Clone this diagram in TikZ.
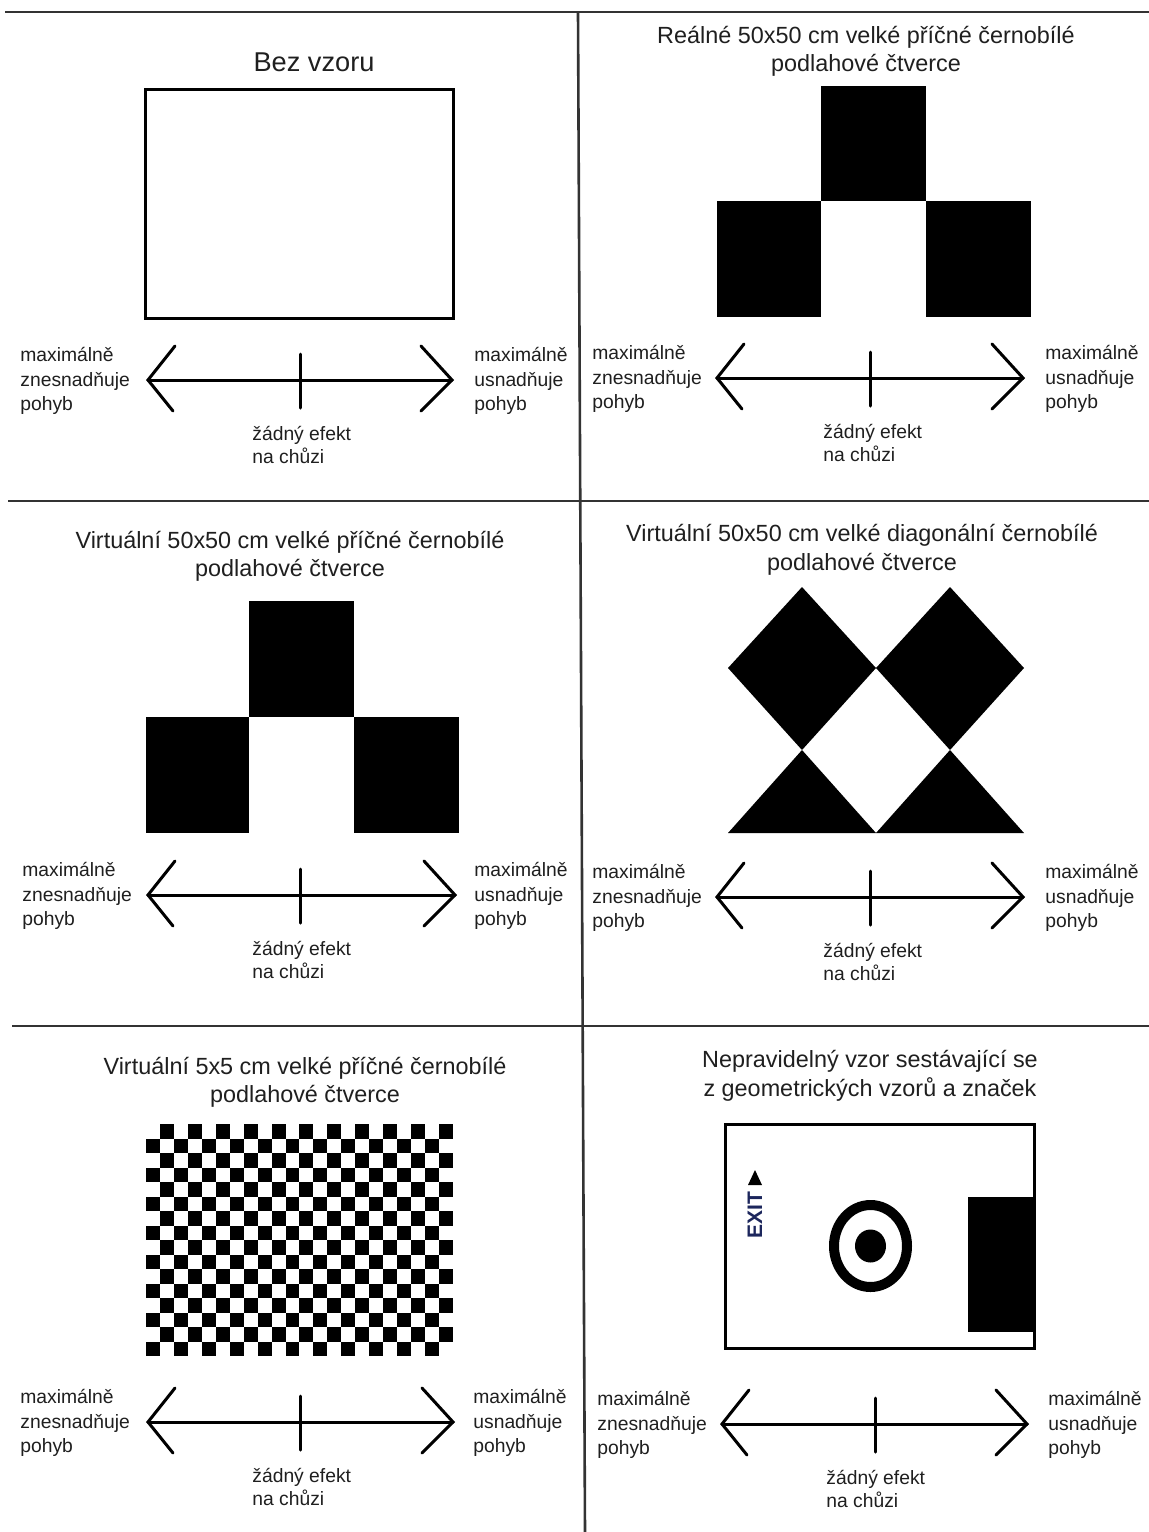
\documentclass[tikz,border=0pt]{standalone}
\usepackage{fontspec}
\setmainfont{Liberation Sans}
\usetikzlibrary{calc}
\newcommand{\labfont}{\fontsize{9.65}{11}\selectfont}
\newcommand{\ttlfont}{\fontsize{11.7}{14}\selectfont}
\newcommand{\bigttlfont}{\fontsize{13.6}{16}\selectfont}
\definecolor{exitblue}{RGB}{28,38,92}
\tikzset{
  gridline/.style={line width=1.3pt, draw=black!80},
  frame/.style={line width=1.5pt, draw=black},
  scaleline/.style={line width=1.5pt, line cap=round, line join=miter},
  lab/.style={font=\labfont, anchor=base west, inner sep=0pt, text=black!88},
  ttl/.style={font=\ttlfont, anchor=base, inner sep=0pt, text=black!88},
}
\newcommand{\walkscale}[8]{%
  \coordinate (#1L) at (#3,#2);
  \coordinate (#1R) at (#4,#2);
  \coordinate (#1T) at (#5,#2-26);
  \coordinate (#1B) at (#5,#2+28);
  \draw[scaleline] (#1L) -- (#1R);
  \draw[scaleline] ($(#1L)+(27,-34)$) -- (#1L) -- ($(#1L)+(25,31)$);
  \draw[scaleline] ($(#1R)+(-31,-34)$) -- (#1R) -- ($(#1R)+(-31,31)$);
  \draw[scaleline] (#1T) -- (#1B);
  \node[lab] (#1a1) at (#6,#2-19) {maximálně};
  \node[lab] (#1a2) at (#6,#2+6) {znesnadňuje};
  \node[lab] (#1a3) at (#6,#2+30) {pohyb};
  \node[lab] (#1b1) at (#7,#2-19) {maximálně};
  \node[lab] (#1b2) at (#7,#2+6) {usnadňuje};
  \node[lab] (#1b3) at (#7,#2+30) {pohyb};
  \node[lab] (#1c1) at (#8,#2+60) {žádný efekt};
  \node[lab] (#1c2) at (#8,#2+83) {na chůzi};
}
\begin{document}
\begin{tikzpicture}[x=0.5pt,y=-0.5pt]
\useasboundingbox[fill=white] (0,0) rectangle (1149,1532);
% grid
\draw[gridline] (5,12) -- (1149,12);
\draw[gridline] (578,12) -- (585,1532);
\draw[gridline] (8,501) -- (1149,501);
\draw[gridline] (12,1026) -- (1149,1026);

% panel 1
\node[ttl, font=\bigttlfont] (t1) at (314,71) {Bez vzoru};
\draw[frame] (145,89) rectangle (453,318);
\walkscale{sa}{380}{148}{452}{300}{20}{474}{252}

% panel 2
\node[ttl] (t2a) at (866,43) {Reálné 50x50 cm velké příčné černobílé};
\node[ttl] (t2b) at (866,71) {podlahové čtverce};
\fill (821,86) rectangle (926,201);
\fill (717,201) rectangle (821,317);
\fill (926,201) rectangle (1031,317);
\walkscale{sb}{378}{717}{1023}{870}{592}{1045}{823}

% panel 3
\node[ttl] (t3a) at (290,548) {Virtuální 50x50 cm velké příčné černobílé};
\node[ttl] (t3b) at (290,576) {podlahové čtverce};
\fill (249,601) rectangle (354,717);
\fill (146,717) rectangle (249,833);
\fill (354,717) rectangle (459,833);
\walkscale{sc}{895}{148}{455}{300}{22}{474}{252}

% panel 4
\node[ttl] (t4a) at (862,541) {Virtuální 50x50 cm velké diagonální černobílé};
\node[ttl] (t4b) at (862,570) {podlahové čtverce};
\fill (728,668) -- (802,587) -- (876,668) -- (802,750) -- cycle;
\fill (876,668) -- (950,587) -- (1024,668) -- (950,750) -- cycle;
\fill (728,833) -- (802,750) -- (876,833) -- cycle;
\fill (876,833) -- (950,750) -- (1024,833) -- cycle;
\walkscale{sd}{897}{717}{1023}{870}{592}{1045}{823}

% panel 5
\node[ttl] (t5a) at (305,1074) {Virtuální 5x5 cm velké příčné černobílé};
\node[ttl] (t5b) at (305,1102) {podlahové čtverce};
\foreach \i in {0,...,21}{
  \foreach \j in {0,...,15}{
    \pgfmathtruncatemacro\cpar{mod(\i+\j,2)}
    \ifnum\cpar=1
      \fill ({146+\i*13.95},{1124+\j*14.5}) rectangle ({146+(\i+1)*13.95},{1124+(\j+1)*14.5});
    \fi
  }
}
\walkscale{se}{1422}{148}{453}{300}{20}{473}{252}

% panel 6
\node[ttl] (t6a) at (870,1067) {Nepravidelný vzor sestávající se};
\node[ttl] (t6b) at (870,1096) {z geometrických vzorů a značek};
\draw[frame] (725,1124) rectangle (1034,1348);
\fill (968,1197) rectangle (1034,1332);
\draw[line width=5pt] (870.5,1246) ellipse [x radius=36.5, y radius=41];
\fill (870.5,1246) ellipse [x radius=15.5, y radius=16.5];
\node[rotate=90, font=\bfseries\fontsize{10.5}{12}\selectfont, text=exitblue, inner sep=0pt] (exit) at (755,1215) {EXIT};
\fill[black] (748,1185) -- (762,1185) -- (755,1170) -- cycle;
\walkscale{sf}{1424}{722}{1027}{875}{597}{1048}{826}
\end{tikzpicture}
\end{document}
